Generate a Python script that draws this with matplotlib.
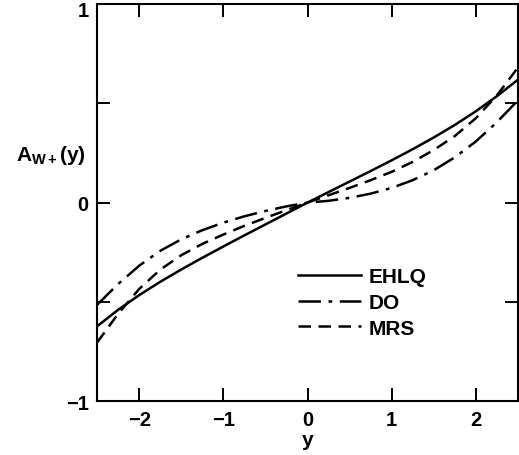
import matplotlib
matplotlib.use("Agg")
import matplotlib.pyplot as plt
import matplotlib.transforms as mtransforms

plt.rcParams['font.family'] = ['Liberation Sans', 'DejaVu Sans']
plt.rcParams['font.weight'] = 'bold'
plt.rcParams['mathtext.fontset'] = 'custom'
plt.rcParams['mathtext.rm'] = 'Liberation Sans:bold'
plt.rcParams['mathtext.it'] = 'Liberation Sans:bold'
plt.rcParams['mathtext.bf'] = 'Liberation Sans:bold'

y_vals = [-2.5, -2.25, -2.0, -1.75, -1.5, -1.25, -1.0, -0.75, -0.5, -0.25, 0.0,
          0.25, 0.5, 0.75, 1.0, 1.25, 1.5, 1.75, 2.0, 2.25, 2.5]
ehlq = [-0.623, -0.540, -0.466, -0.399, -0.337, -0.278, -0.221, -0.165, -0.110, -0.055, 0.0,
        0.053, 0.106, 0.159, 0.213, 0.269, 0.328, 0.391, 0.460, 0.536, 0.619]
do = [-0.515, -0.410, -0.318, -0.243, -0.185, -0.139, -0.101, -0.069, -0.042, -0.019, 0.0,
      0.009, 0.024, 0.045, 0.074, 0.113, 0.163, 0.228, 0.308, 0.405, 0.515]
mrs = [-0.705, -0.560, -0.435, -0.338, -0.265, -0.208, -0.161, -0.117, -0.077, -0.038, 0.0,
       0.037, 0.074, 0.113, 0.155, 0.205, 0.265, 0.335, 0.425, 0.540, 0.680]

series_labels = ['EHLQ', 'DO', 'MRS']
x_ticks = [-2, -1, 0, 1, 2]
x_tick_labels = ['\u22122', '\u22121', '0', '1', '2']
y_ticks = [-1, -0.5, 0, 0.5, 1]
y_tick_labels = ['\u22121', '', '0', '', '1']

fig = plt.figure(figsize=(5.19, 4.56), dpi=100)
ax = fig.add_axes([0.187, 0.118, 0.811, 0.871])

lw = 1.8
ax.plot(y_vals, ehlq, color='black', lw=lw, linestyle='-', label=series_labels[0])
ax.plot(y_vals, do, color='black', lw=lw, linestyle=(0, (9, 3, 1.5, 3)), label=series_labels[1])
ax.plot(y_vals, mrs, color='black', lw=lw, linestyle=(0, (5, 3)), label=series_labels[2])

ax.set_xlim(-2.5, 2.5)
ax.set_ylim(-1, 1)
ax.set_xticks(x_ticks)
ax.set_xticklabels(x_tick_labels)
ax.set_yticks(y_ticks)
ax.set_yticklabels(y_tick_labels)
ax.tick_params(direction='in', length=9.5, width=1.4, top=True, right=True,
               labelsize=14.5, pad=6)
for s in ax.spines.values():
    s.set_linewidth(1.5)

# nudge the top "1" label down slightly so it is not clipped
top_lbl = ax.get_yticklabels()[-1]
top_lbl.set_transform(top_lbl.get_transform() +
                      mtransforms.ScaledTranslation(0, -3 / 72, fig.dpi_scale_trans))

ax.set_xlabel('y', fontsize=15, fontweight='bold', labelpad=1)
fig.text(0.03, 0.66, r'$\mathrm{A_{W+}(y)}$', fontsize=15, ha='left', va='center')

leg = ax.legend(loc='upper left', bbox_to_anchor=(0.478, 0.338), frameon=False,
                fontsize=15, handlelength=3.0, handletextpad=0.4,
                labelspacing=0.33, borderpad=0, borderaxespad=0)

fig.savefig('out.png', dpi=100)
